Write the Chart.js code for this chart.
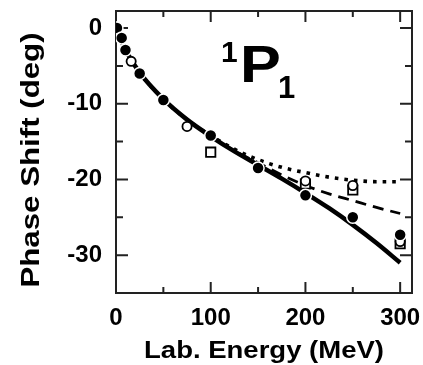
<!DOCTYPE html>
<html>
<head>
<meta charset="utf-8">
<script src="https://cdn.jsdelivr.net/npm/chart.js@4.4.1/dist/chart.umd.min.js"></script>
<style>
  html, body { margin: 0; padding: 0; background: #fff; }
  #wrap { width: 423px; height: 365px; }
</style>
</head>
<body>
<div id="wrap"><canvas id="c" width="423" height="365"></canvas></div>
<script>
// 1P1 phase shift vs lab energy: three model curves plus three data sets.

// filled circles
const fullE = [1, 6, 10, 25, 50, 100, 150, 200, 250, 300];
const fullD = [0, -1.3, -2.9, -6.0, -9.5, -14.2, -18.5, -22.1, -25.0, -27.3];
// open circles
const ringE = [16, 75, 200, 250, 300];
const ringD = [-4.4, -13.0, -20.2, -20.8, -28.2];
// open squares
const boxE = [100, 200, 250, 300];
const boxD = [-16.4, -20.6, -21.4, -28.5];

// curves (solid / dashed / dotted), shared energy grid
const curveE = [0, 5, 10, 25, 50, 75, 100, 125, 150, 175, 200, 225, 250, 275, 300];
const solidD = [0, -1.5, -2.9, -5.9, -9.4, -12.1, -14.3, -16.3, -18.1, -19.9, -21.8, -23.8, -26.0, -28.4, -31.0];
const dashD  = [0, -1.5, -2.9, -5.9, -9.4, -12.1, -14.3, -16.2, -17.8, -19.4, -20.8, -21.9, -22.8, -23.7, -24.5];
const dotD   = [0, -1.5, -2.9, -5.9, -9.4, -12.1, -14.2, -16.0, -17.4, -18.4, -19.1, -19.7, -20.1, -20.3, -20.3];

const xTickLabels = [0, 100, 200, 300];
const xMinor = [50, 150, 250];
const yTickLabels = [0, -10, -20, -30];
const yMinor = [-5, -15, -25];

const FONT = '"Liberation Sans", Arial, Helvetica, sans-serif';
const INK = "#000";
const AXIS = "#222";

const pts = (xs, ys) => xs.map((x, i) => ({ x, y: ys[i] }));

function curve(label, ys, width, dash) {
  return {
    label,
    data: pts(curveE, ys),
    borderColor: INK,
    borderWidth: width,
    borderDash: dash,
    borderCapStyle: "butt",
    pointRadius: 0,
    cubicInterpolationMode: "monotone",
    fill: false,
    order: 2,
  };
}

function marks(label, xs, ys, style, r, fillC, edgeC, edgeW) {
  return {
    label,
    data: pts(xs, ys),
    showLine: false,
    pointStyle: style,
    pointRadius: r,
    pointBackgroundColor: fillC,
    pointBorderColor: edgeC,
    pointBorderWidth: edgeW,
    order: 0,
  };
}

// the plot box is pinned: no extra room reserved for edge tick labels
function pin(size) {
  return (s) => {
    if (s.isHorizontal()) s.height = size;
    else s.width = size;
    s.paddingTop = s.paddingBottom = s.paddingLeft = s.paddingRight = 0;
  };
}

// box with inward ticks on all four sides
const frame = {
  id: "frame",
  beforeDatasetsDraw(chart) {
    const { ctx, chartArea: a, scales: { x, y } } = chart;
    ctx.save();
    ctx.strokeStyle = AXIS;
    ctx.lineWidth = 2;
    ctx.strokeRect(a.left, a.top, a.right - a.left, a.bottom - a.top);
    ctx.beginPath();
    const xt = (v, len) => {
      const p = x.getPixelForValue(v);
      ctx.moveTo(p, a.bottom); ctx.lineTo(p, a.bottom - len);
      ctx.moveTo(p, a.top); ctx.lineTo(p, a.top + len);
    };
    const yt = (v, len) => {
      const p = y.getPixelForValue(v);
      ctx.moveTo(a.left, p); ctx.lineTo(a.left + len, p);
      ctx.moveTo(a.right, p); ctx.lineTo(a.right - len, p);
    };
    xTickLabels.forEach((v) => xt(v, 11));
    xMinor.forEach((v) => xt(v, 6));
    yTickLabels.forEach((v) => yt(v, 12));
    yMinor.forEach((v) => yt(v, 7));
    ctx.stroke();
    ctx.restore();
  },
};

// axis titles and the wave label; the face is a little wider than Arial
function wideText(ctx, str, x, y, size, sx, rot) {
  ctx.save();
  ctx.translate(x, y);
  if (rot) ctx.rotate(rot);
  ctx.scale(sx, 1);
  ctx.font = `bold ${size}px ${FONT}`;
  ctx.fillStyle = INK;
  ctx.textBaseline = "alphabetic";
  ctx.textAlign = "center";
  ctx.fillText(str, 0, 0);
  ctx.restore();
}

const labels = {
  id: "labels",
  afterDraw(chart) {
    const { ctx, chartArea: a } = chart;
    wideText(ctx, "Lab. Energy (MeV)", (a.left + a.right) / 2, 358, 24, 1.146, 0);
    wideText(ctx, "Phase Shift (deg)", 39, 160, 25, 1.25, -Math.PI / 2);
    ctx.save();
    ctx.fillStyle = INK;
    ctx.textBaseline = "alphabetic";
    ctx.textAlign = "left";
    ctx.font = `bold 30px ${FONT}`;
    ctx.fillText("1", 221, 62);
    ctx.save();
    ctx.translate(240, 82);
    ctx.scale(1.2, 1);
    ctx.font = `bold 51px ${FONT}`;
    ctx.fillText("P", 0, 0);
    ctx.restore();
    ctx.font = `bold 31px ${FONT}`;
    ctx.fillText("1", 278, 98);
    ctx.restore();
  },
};

new Chart(document.getElementById("c"), {
  type: "line",
  data: {
    datasets: [
      marks("filled", fullE, fullD, "circle", 6, INK, "#fff", 1.5),
      marks("open circle", ringE, ringD, "circle", 4.6, "#fff", INK, 1.8),
      marks("open square", boxE, boxD, "rect", 6.6, "#fff", INK, 1.8),
      curve("solid", solidD, 4.5, []),
      curve("dashed", dashD, 2.8, [11, 7]),
      curve("dotted", dotD, 3.6, [3.6, 6]),
    ],
  },
  options: {
    responsive: false,
    animation: false,
    devicePixelRatio: 1,
    layout: { padding: { top: 11, right: 11, left: 0, bottom: 0 } },
    scales: {
      x: {
        type: "linear",
        min: 0,
        max: 312.5,
        afterBuildTicks: (s) => { s.ticks = xTickLabels.map((v) => ({ value: v })); },
        afterFit: pin(72),
        grid: { display: false, drawTicks: false },
        border: { display: false },
        ticks: { color: INK, padding: 11, maxRotation: 0, font: { family: FONT, size: 24, weight: "bold" } },
      },
      y: {
        type: "linear",
        min: -35,
        max: 2.25,
        afterBuildTicks: (s) => { s.ticks = yTickLabels.map((v) => ({ value: v })); },
        afterFit: pin(116),
        grid: { display: false, drawTicks: false },
        border: { display: false },
        ticks: { color: INK, padding: 14, font: { family: FONT, size: 24, weight: "bold" } },
      },
    },
    plugins: { legend: { display: false }, tooltip: { enabled: false } },
  },
  plugins: [frame, labels],
});
</script>
</body>
</html>
